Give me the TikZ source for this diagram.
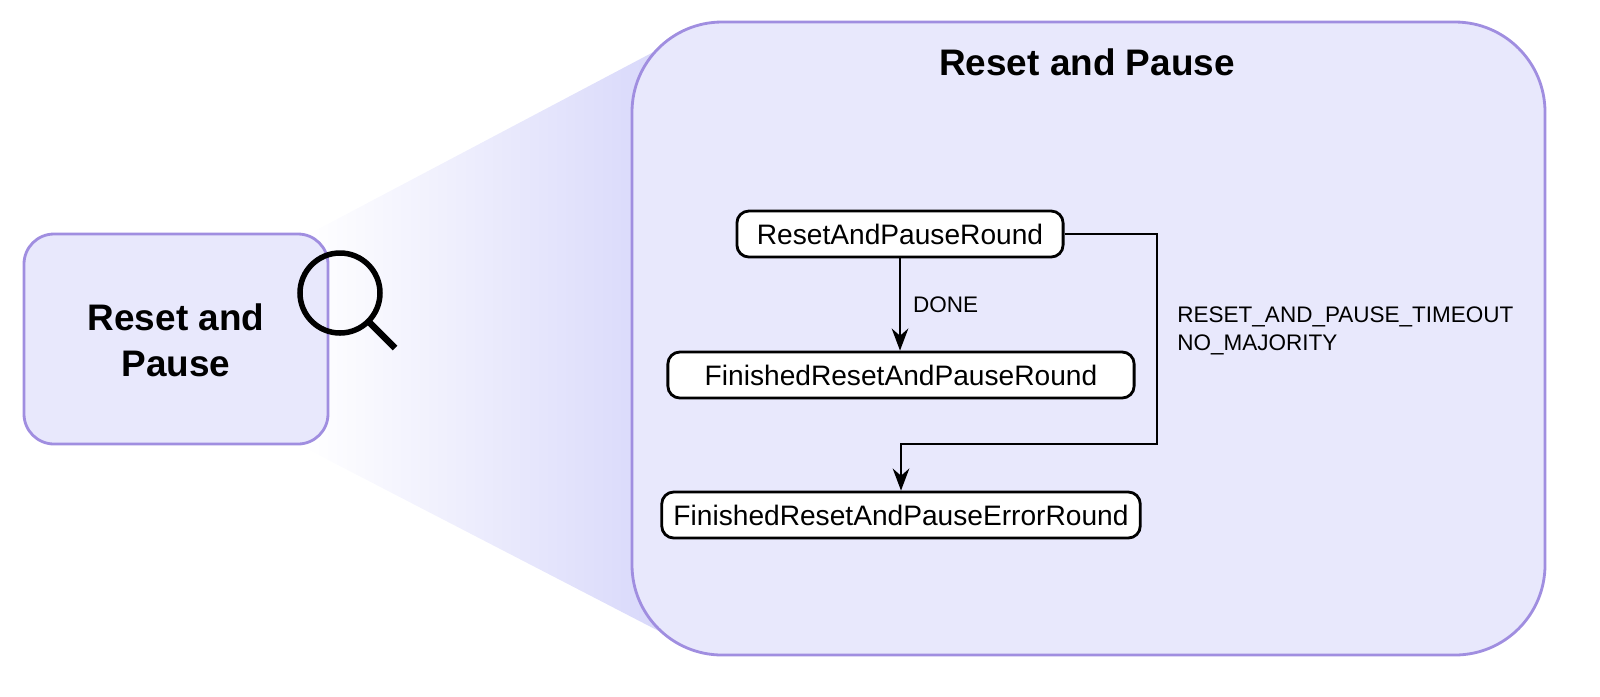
\documentclass[tikz,border=0pt]{standalone}
\usepackage{fontspec}
\setmainfont{Liberation Sans}
\usetikzlibrary{arrows.meta, positioning, calc}
\definecolor{rpfill}{HTML}{E8E8FC}
\definecolor{rpedge}{HTML}{A08EE0}
\definecolor{rpshade}{HTML}{D6D6FA}

\begin{document}
\begin{tikzpicture}[x=0.01cm, y=-0.01cm,
    state/.style={draw=black, fill=white, rounded corners=1.2mm, thick, minimum height=4.6mm, font=\fontsize{8}{9.6}\selectfont},
    group/.style={draw=rpedge, fill=rpfill, thick},
    arrow/.style={-{Stealth[length=2.2mm]}, thick},
    lbl/.style={font=\fontsize{6.4}{7.8}\selectfont, align=left}
]
\useasboundingbox (0,0) rectangle (1600,696);

% Zoom funnel
\shade[overlay, left color=white, right color=rpshade] (305,236) -- (680,38) -- (680,642) -- (305,448) -- cycle;

% Small group box
\draw[group, rounded corners=3mm] (24,234) rectangle (328,444);
\node[font=\bfseries\fontsize{10.5}{13}\selectfont, align=center] (small) at (176,340) {Reset and\\Pause};

% Magnifier
\draw[line width=0.55mm] (340,293) circle (40);
\draw[line width=0.65mm] (368,321) -- (395,348);

% Big group box
\draw[group, rounded corners=9mm] (632,22) rectangle (1545,655);
\node[font=\bfseries\fontsize{10.5}{13}\selectfont] (title) at (1087,62) {Reset and Pause};

% States
\node[state, minimum width=3.26cm] (rp) at (900,234) {ResetAndPauseRound};
\node[state, minimum width=4.66cm] (fin) at (901,375) {FinishedResetAndPauseRound};
\node[state, minimum width=4.66cm] (err) at (901,515) {FinishedResetAndPauseErrorRound};

% Transitions
\draw[arrow] (rp.south) -- node[lbl, right] {DONE} (rp.south |- fin.north);
\draw[arrow] (rp.east) -| (1157,444) -| (err.north);
\node[lbl, anchor=west] (tlbl) at (1165,331) {RESET\_AND\_PAUSE\_TIMEOUT\\NO\_MAJORITY};

\end{tikzpicture}
\end{document}
